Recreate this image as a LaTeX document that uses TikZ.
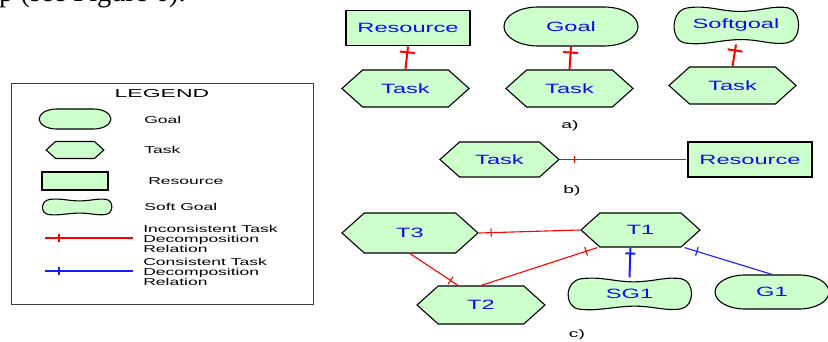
\documentclass[tikz,border=0pt]{standalone}
\usepackage{fontspec}
\setmainfont{Liberation Sans}
\newfontfamily\pagefont{Liberation Serif}
\usetikzlibrary{shapes.symbols,shapes.misc,decorations.markings,backgrounds}
\usepackage{xcolor}
\definecolor{sgreen}{RGB}{204,255,204}
\definecolor{tblue}{RGB}{10,10,255}
\definecolor{relblue}{RGB}{25,25,255}
\definecolor{framegray}{RGB}{60,60,60}

\tikzset{
  shapebase/.style={draw=black, fill=sgreen, line width=1.1pt, xscale=1.75, inner sep=0pt,
    text=tblue, font=\fontsize{13.5}{16}\selectfont},
  taskbox/.style={shapebase, signal, signal to=east and west, signal pointer angle=115},
  goalbox/.style={shapebase, rounded rectangle},
  resbox/.style={shapebase, rectangle, line width=1.7pt},
  softbox/.style={shapebase, rectangle, draw=none, fill=none},
  relmark/.style 2 args={decoration={markings, mark=at position #1 with {\draw (0,-#2) -- (0,#2);}},
    postaction={decorate}},
  badrel/.style={red, line width=1.1pt},
  goodrel/.style={relblue, line width=1.1pt},
  lgtext/.style={anchor=west, xscale=1.75, inner sep=0pt, align=left, font=\fontsize{10}{10}\selectfont},
  subcap/.style={xscale=1.75, inner sep=0pt, font=\fontsize{11}{11}\selectfont}
}

\begin{document}
\begin{tikzpicture}[x=1pt,y=-1pt]
        \useasboundingbox (0,0) rectangle (828,342);
        %end of the page text above the figure
        \node[anchor=base east, inner sep=0pt, xscale=0.95, font=\pagefont\fontsize{30}{30}\selectfont] (pagetext) at (186,2) {p (see Figure 6).};

        %draw the legend
        \draw[framegray, line width=1pt] (11,84) rectangle (313,304);
        \node[inner sep=0pt, xscale=2, font=\fontsize{11.5}{12}\selectfont] (lgtitle) at (162,94) {LEGEND};
        \node[goalbox, minimum width=41pt, minimum height=20pt] (lggoal) at (75,119) {};
        \node[taskbox, minimum width=33pt, minimum height=17pt] (lgtask) at (75,150) {};
        \node[resbox, minimum width=37.7pt, minimum height=18pt] (lgres) at (75,181) {};
        \node[softbox, minimum width=39pt, minimum height=16pt] (lgsoft) at (77,207) {};
        \node[lgtext] (lggoaltxt) at (144,120) {Goal};
        \node[lgtext] (lgtasktxt) at (144,150) {Task};
        \node[lgtext] (lgrestxt) at (148,181) {Resource};
        \node[lgtext] (lgsofttxt) at (144,207) {Soft Goal};
        \coordinate (lgbadl) at (45,238);
        \coordinate (lgbadr) at (133,238);
        \coordinate (lggoodl) at (45,271);
        \coordinate (lggoodr) at (133,271);
        \draw[badrel, line width=1.2pt, relmark={14pt}{4pt}] (lgbadl) -- (lgbadr);
        \draw[goodrel, line width=1.3pt, relmark={14pt}{4pt}] (lggoodl) -- (lggoodr);
        \node[lgtext] (lgbadtxt) at (143,239) {Inconsistent Task\\Decomposition\\Relation};
        \node[lgtext] (lggoodtxt) at (143,272) {Consistent Task\\Decomposition\\Relation};

        %a) decomposition into resource, goal and softgoal
        \node[resbox, minimum width=70.9pt, minimum height=35pt] (resA) at (408,28) {Resource};
        \node[taskbox, minimum width=72.6pt, minimum height=37pt] (taskA1) at (405.5,88.5) {Task};
        \node[goalbox, minimum width=76.6pt, minimum height=39pt] (goalA) at (571,26.5) {Goal};
        \node[taskbox, minimum width=72.6pt, minimum height=37pt] (taskA2) at (569.5,88.5) {Task};
        \node[softbox, minimum width=69.7pt, minimum height=37pt] (sgA) at (736,25.5) {Softgoal};
        \node[taskbox, minimum width=72.6pt, minimum height=37pt] (taskA3) at (732.5,85.5) {Task};
        \draw[badrel, line width=2pt, relmark={6pt}{7.5pt}] (resA.south) -- (taskA1.north);
        \draw[badrel, line width=2pt, relmark={6pt}{7.5pt}] (goalA.south) -- (taskA2.north);
        \draw[badrel, line width=2pt, relmark={6pt}{7.5pt}] (sgA.south) -- (taskA3.north);
        \node[subcap] (capa) at (570,126) {a)};

        %b) task and resource side by side
        \node[taskbox, minimum width=68pt, minimum height=35pt] (taskB) at (499.5,159.5) {Task};
        \node[resbox, minimum width=70.9pt, minimum height=35pt] (resB) at (750,159.5) {Resource};
        \draw[badrel, line width=0.9pt, relmark={14pt}{3.5pt}] (taskB.east) -- (resB.west);
        \node[subcap] (capb) at (572,191) {b)};

        %c) tasks, softgoal and goal
        \node[taskbox, minimum width=77.7pt, minimum height=40pt] (t3) at (410,233) {T3};
        \node[taskbox, minimum width=68pt, minimum height=34pt] (t1) at (640.5,230) {T1};
        \node[taskbox, minimum width=73.1pt, minimum height=38pt] (t2) at (481,305) {T2};
        \node[softbox, minimum width=69.1pt, minimum height=32pt] (sg1) at (629.5,294) {SG1};
        \node[goalbox, minimum width=65.1pt, minimum height=34pt] (g1) at (772,292) {G1};
        \draw[badrel, relmark={12pt}{4pt}] (t3.east) -- (t1.west);
        \draw[badrel, relmark={9pt}{4.5pt}] ([xshift=-23pt]t2.north) -- (t3.south);
        \draw[badrel, relmark={12pt}{4.5pt}] ([xshift=-43pt]t1.south) -- (t2.north);
        \draw[goodrel, line width=2pt, relmark={6pt}{5pt}] ([xshift=-10pt]t1.south) -- (sg1.north);
        \draw[goodrel, relmark={13pt}{4.5pt}] ([xshift=44pt]t1.south) -- (g1.north);
        \node[subcap] (capc) at (577,335) {c)};

        %softgoal outlines behind their labels
        \begin{scope}[on background layer]
        \foreach \n/\hw/\hh in {lgsoft/34pt/8pt, sgA/61pt/18.5pt, sg1/60.5pt/16pt}
        \draw[line width=1.1pt, fill=sgreen, shift={(\n.center)}, x=\hw, y=\hh]
          (-0.8,0.95) .. controls (-0.45,1.12) and (-0.25,0.74) .. (0.1,0.76)
          .. controls (0.45,0.8) and (0.6,1.1) .. (0.86,0.95)
          .. controls (1.08,0.8) and (1.08,-0.75) .. (0.86,-0.92)
          .. controls (0.6,-1.1) and (0.4,-0.74) .. (0.05,-0.76)
          .. controls (-0.3,-0.8) and (-0.55,-1.1) .. (-0.84,-0.94)
          .. controls (-1.08,-0.8) and (-1.08,0.8) .. (-0.8,0.95) -- cycle;
        \end{scope}
\end{tikzpicture}
\end{document}
